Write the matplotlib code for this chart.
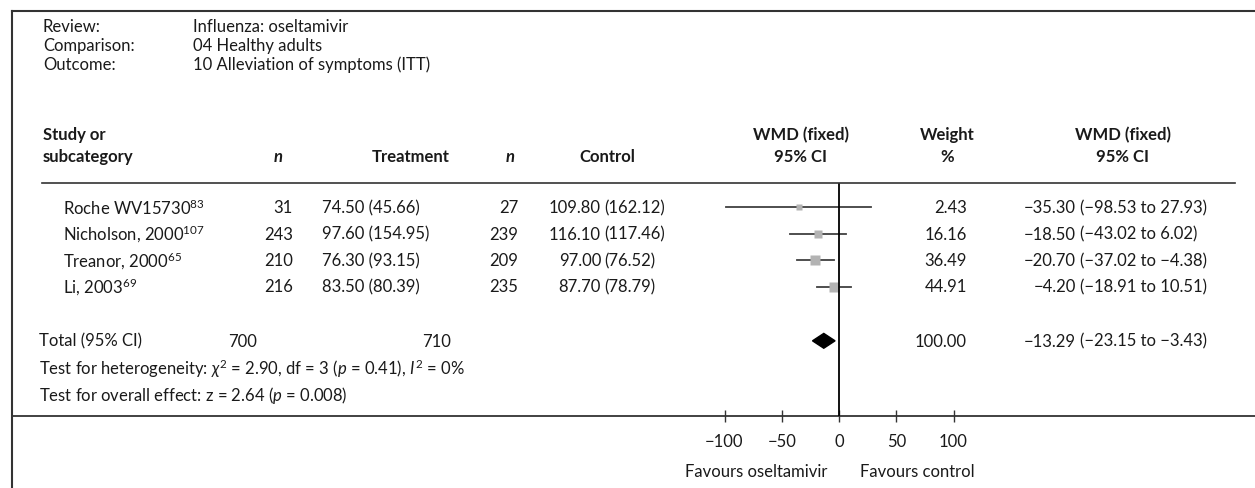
import matplotlib.pyplot as plt
from matplotlib.lines import Line2D

plt.rcParams['font.family'] = ['Lato', 'DejaVu Sans']
plt.rcParams['mathtext.fontset'] = 'custom'
plt.rcParams['mathtext.rm'] = 'Lato'
plt.rcParams['mathtext.it'] = 'Lato:italic'
plt.rcParams['mathtext.bf'] = 'Lato:bold'

# data
studies = ['Roche WV15730$^{83}$', 'Nicholson, 2000$^{107}$', 'Treanor, 2000$^{65}$', 'Li, 2003$^{69}$']
n_treat = [31, 243, 210, 216]
treat_mean = [74.50, 97.60, 76.30, 83.50]
treat_sd = [45.66, 154.95, 93.15, 80.39]
n_ctrl = [27, 239, 209, 235]
ctrl_mean = [109.80, 116.10, 97.00, 87.70]
ctrl_sd = [162.12, 117.46, 76.52, 78.79]
wmd = [-35.30, -18.50, -20.70, -4.20]
ci_low = [-98.53, -43.02, -37.02, -18.91]
ci_high = [27.93, 6.02, -4.38, 10.51]
weights = [2.43, 16.16, 36.49, 44.91]

total_n_treat = 700
total_n_ctrl = 710
total_wmd = -13.29
total_low = -23.15
total_high = -3.43
total_weight = 100.00

ticks = [-100, -50, 0, 50, 100]

W, H = 1255, 489
TXT = '#1a1a1a'
FS = 12


def fmt(v):
    return f'{v:.2f}'.replace('-', '\u2212')


fig = plt.figure(figsize=(W / 100, H / 100), dpi=100)


def put(x, y, s, ha='left', **kw):
    fig.text(x / W, 1 - y / H, s, ha=ha, va='center', fontsize=FS, color=TXT, **kw)


def hline(y, x0, x1, lw=1.3):
    fig.add_artist(Line2D([x0 / W, x1 / W], [1 - y / H, 1 - y / H], color='#333333', lw=lw))


# frame lines
hline(12, 12, W, lw=1.5)
fig.add_artist(Line2D([12 / W, 12 / W], [1 - 12 / H, 0], color='#333333', lw=1.5))
hline(184, 42, 1235, lw=1.2)

# forest panel: 0 sits at x=839 px, 1.145 px per unit
zero_px, scale = 839, 1.145
row0, row_h = 208, 26.5
ax = fig.add_axes([12 / W, 1 - 417 / H, (W - 12) / W, (417 - 184) / H])
ax.set_xlim((12 - zero_px) / scale, (W - zero_px) / scale)
ax.set_ylim((417 - row0) / row_h, (184 - row0) / row_h)
ax.patch.set_alpha(0)
for s in ['left', 'right', 'top']:
    ax.spines[s].set_visible(False)
ax.spines['bottom'].set_color('#333333')
ax.spines['bottom'].set_linewidth(1.3)
ax.set_yticks([])
ax.set_xticks(ticks)
ax.set_xticklabels([str(t).replace('-', '\u2212') for t in ticks])
ax.tick_params(axis='x', direction='inout', length=8, width=1, color='#333333',
               labelsize=FS, labelcolor=TXT, pad=8)

rows = list(range(len(studies)))
total_row = 5.05
for i in rows:
    ax.plot([ci_low[i], ci_high[i]], [i, i], color='#404040', lw=1.3, zorder=2)
    ax.plot(wmd[i], i, marker='s', ms=(4.5 + 0.8 * weights[i] ** 0.5) * 0.72,
            color='#b3b3b3', mec='none', zorder=3)

hh = 0.28
ax.fill([total_low, total_wmd, total_high, total_wmd],
        [total_row, total_row - hh, total_row, total_row + hh], color='black', zorder=3)
ax.axvline(0, color='black', lw=1.3, zorder=4)

# header block
put(43, 27, 'Review:')
put(193, 27, 'Influenza: oseltamivir')
put(43, 46, 'Comparison:')
put(193, 46, '04 Healthy adults')
put(43, 65, 'Outcome:')
put(193, 65, '10 Alleviation of symptoms (ITT)')

# column titles
put(43, 135, 'Study or', fontweight='bold')
put(43, 157, 'subcategory', fontweight='bold')
put(278, 157, 'n', ha='center', fontweight='bold', fontstyle='italic')
put(411, 157, 'Treatment', ha='center', fontweight='bold')
put(510, 157, 'n', ha='center', fontweight='bold', fontstyle='italic')
put(607, 157, 'Control', ha='center', fontweight='bold')
put(801, 135, 'WMD (fixed)', ha='center', fontweight='bold')
put(801, 157, '95% CI', ha='center', fontweight='bold')
put(947, 135, 'Weight', ha='center', fontweight='bold')
put(947, 157, '%', ha='center', fontweight='bold')
put(1123, 135, 'WMD (fixed)', ha='center', fontweight='bold')
put(1123, 157, '95% CI', ha='center', fontweight='bold')

# study rows: estimates right-aligned, brackets left-aligned so the points line up
for i in rows:
    y = row0 + row_h * i
    put(63, y, studies[i])
    put(293, y, str(n_treat[i]), ha='right')
    put(322, y, f'{fmt(treat_mean[i])} ({fmt(treat_sd[i])})')
    put(518, y, str(n_ctrl[i]), ha='right')
    put(601, y, fmt(ctrl_mean[i]), ha='right')
    put(604.5, y, f'({fmt(ctrl_sd[i])})')
    put(967, y, fmt(weights[i]), ha='right')
    put(1076, y, fmt(wmd[i]), ha='right')
    put(1079.5, y, f'({fmt(ci_low[i])} to {fmt(ci_high[i])})')

# total row and tests
yt = row0 + row_h * total_row
put(39, yt, 'Total (95% CI)')
put(228, yt, str(total_n_treat))
put(422, yt, str(total_n_ctrl))
put(967, yt, fmt(total_weight), ha='right')
put(1076, yt, fmt(total_wmd), ha='right')
put(1079.5, yt, f'({fmt(total_low)} to {fmt(total_high)})')
put(39, 369, r'Test for heterogeneity: $\chi^2$ = 2.90, df = 3 ($p$ = 0.41), $I^2$ = 0%')
put(39, 395, r'Test for overall effect: z = 2.64 ($p$ = 0.008)')

put(827, 472, 'Favours oseltamivir', ha='right')
put(860, 472, 'Favours control')

fig.savefig('out.png', dpi=100)
